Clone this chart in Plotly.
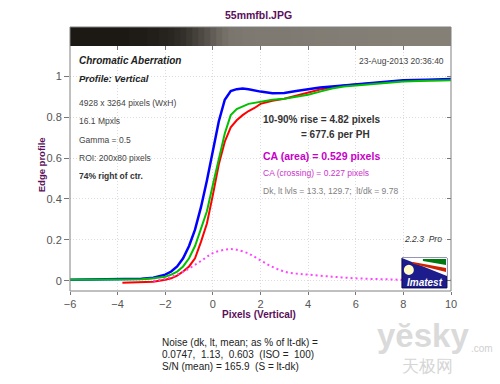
import plotly.graph_objects as go

# ---------------- data ----------------
blue_x = [-6, -4, -3, -2.5, -2, -1.75, -1.5, -1.25, -1, -0.75, -0.5, -0.25, 0, 0.25, 0.5, 0.75,
          1.0, 1.25, 1.5, 2, 2.5, 3, 3.5, 4, 4.5, 5, 5.5, 6, 7, 8, 9, 10]
blue_y = [0.005, 0.006, 0.01, 0.015, 0.03, 0.045, 0.07, 0.11, 0.17, 0.25, 0.36, 0.49, 0.64, 0.78, 0.885, 0.928,
          0.937, 0.94, 0.937, 0.925, 0.917, 0.918, 0.928, 0.937, 0.945, 0.95, 0.955, 0.96, 0.97, 0.98, 0.983, 0.987]

green_x = [-6, -4, -3, -2.5, -2, -1.75, -1.5, -1.25, -1, -0.75, -0.5, -0.25, 0, 0.25, 0.5, 0.75,
           1, 1.5, 2, 2.5, 3, 3.5, 4, 4.5, 5, 5.5, 6, 7, 8, 9, 10]
green_y = [0.005, 0.005, 0.008, 0.012, 0.02, 0.03, 0.045, 0.07, 0.11, 0.17, 0.25, 0.34, 0.47, 0.6, 0.72, 0.81,
           0.84, 0.865, 0.875, 0.885, 0.89, 0.9, 0.91, 0.925, 0.94, 0.95, 0.955, 0.965, 0.975, 0.978, 0.98]

red_x = [-3.8, -3, -2.5, -2, -1.75, -1.5, -1.25, -1, -0.75, -0.5, -0.25, 0, 0.25, 0.5, 0.75, 1,
         1.25, 1.5, 1.75, 2, 2.5, 3, 3.5, 4, 4.5, 5, 5.5, 6, 7, 8, 9, 10]
red_y = [-0.01, -0.008, -0.005, 0.005, 0.012, 0.025, 0.045, 0.07, 0.11, 0.19, 0.28, 0.42, 0.57, 0.68, 0.75, 0.785,
         0.81, 0.83, 0.845, 0.865, 0.88, 0.89, 0.905, 0.92, 0.935, 0.945, 0.955, 0.96, 0.97, 0.978, 0.98, 0.982]

diff_x = [-2.5, -2, -1.5, -1, -0.5, 0, 0.5, 0.75, 1, 1.5, 2, 2.5, 3, 3.5, 4, 5, 6, 7, 8, 9, 10]
diff_y = [0.0, 0.01, 0.03, 0.06, 0.097, 0.135, 0.152, 0.155, 0.152, 0.133, 0.1, 0.068, 0.045, 0.035, 0.03,
          0.02, 0.012, 0.008, 0.005, 0.004, 0.003]

x_ticks = [-6, -4, -2, 0, 2, 4, 6, 8, 10]
y_ticks = [0, 0.2, 0.4, 0.6, 0.8, 1]
y_ticktext = ["0", "0.2", "0.4", "0.6", "0.8", "1"]

# ---------------- styling ----------------
FONT = "Liberation Sans, Arial, sans-serif"
PURPLE = "#5a105a"
DARK = (22, 18, 15)
LIGHT = (133, 129, 119)
X_RANGE = [-6, 10]
Y_RANGE = [-0.05, 1.148]
MAIN_TOP = 0.928
GRID = "#dcdcdc"


def shade(s):
    f = s ** 0.5
    c = [round(d + (l - d) * f) for d, l in zip(DARK, LIGHT)]
    return "rgb(%d,%d,%d)" % tuple(c)


stops = [0, 0.01, 0.02, 0.05, 0.1, 0.2, 0.3, 0.4, 0.5, 0.6, 0.7, 0.8, 0.9, 1.0]
bar_scale = [[s, shade(s)] for s in stops]

fig = go.Figure()

# gradient bar (edge image) above the plot
fig.add_trace(go.Heatmap(x=green_x, y=[0], z=[green_y], zmin=0, zmax=1, colorscale=bar_scale,
                         showscale=False, hoverinfo="skip", xaxis="x3", yaxis="y3"))

fig.add_trace(go.Scatter(x=red_x, y=red_y, mode="lines", line=dict(color="#ff0000", width=2),
                         showlegend=False, hoverinfo="skip"))
fig.add_trace(go.Scatter(x=blue_x, y=blue_y, mode="lines", line=dict(color="#0000ff", width=2.5),
                         showlegend=False, hoverinfo="skip"))
fig.add_trace(go.Scatter(x=green_x, y=green_y, mode="lines", line=dict(color="#00c000", width=2),
                         showlegend=False, hoverinfo="skip"))
fig.add_trace(go.Scatter(x=diff_x, y=diff_y, mode="lines", line=dict(color="#ff44ff", width=2, dash="2px,3px"),
                         line_shape="spline", showlegend=False, hoverinfo="skip"))
# dummy trace for mirrored tick axes
fig.add_trace(go.Scatter(x=[None], y=[None], xaxis="x2", yaxis="y2", showlegend=False, hoverinfo="skip"))

tickfont = dict(family=FONT, size=11, color="#555555")
fig.update_layout(
    width=500, height=384,
    margin=dict(l=70, r=49, t=27, b=93),
    paper_bgcolor="white", plot_bgcolor="white",
    font=dict(family=FONT),
    xaxis=dict(domain=[0, 1], range=X_RANGE, tickvals=x_ticks, ticks="outside", ticklen=3,
               tickcolor="#777777", tickfont=tickfont, showgrid=True, gridcolor=GRID,
               griddash="1px,2px", zeroline=False, showline=False, anchor="y"),
    yaxis=dict(domain=[0, MAIN_TOP], range=Y_RANGE, tickvals=y_ticks, ticktext=y_ticktext,
               ticks="outside", ticklen=5, tickcolor="#777777", tickfont=tickfont, showgrid=True,
               gridcolor=GRID, griddash="1px,2px", zeroline=False, showline=False, anchor="x"),
    xaxis2=dict(overlaying="x", side="top", anchor="y", range=X_RANGE, tickvals=x_ticks[1:-1],
                ticks="inside", ticklen=4, tickcolor="#777777", showticklabels=False,
                showgrid=False, zeroline=False, showline=False),
    yaxis2=dict(overlaying="y", side="right", anchor="x", range=Y_RANGE, tickvals=y_ticks,
                ticks="inside", ticklen=4, tickcolor="#777777", showticklabels=False,
                showgrid=False, zeroline=False, showline=False),
    xaxis3=dict(domain=[0, 1], anchor="y3", range=X_RANGE, visible=False),
    yaxis3=dict(domain=[MAIN_TOP, 1], anchor="x3", range=[-0.5, 0.5], visible=False),
)

# frame around bar + plot
fig.add_shape(type="rect", xref="paper", yref="paper", x0=0, x1=1, y0=0, y1=1,
              line=dict(color="#808080", width=1), fillcolor="rgba(0,0,0,0)")

# Imatest logo
fig.add_shape(type="rect", x0=7.94, x1=9.83, y0=-0.035, y1=0.111, line=dict(color="#0a0a50", width=1),
              fillcolor="#1c1c8c")
fig.add_shape(type="path", path="M 7.94 0.111 L 9.83 0.111 L 9.83 0.023 Z", line=dict(width=0),
              fillcolor="white")
fig.add_shape(type="path", path="M 8.82 0.107 L 9.79 0.107 L 9.79 0.077 L 8.82 0.097 Z", line=dict(width=0),
              fillcolor="#007a10")
fig.add_shape(type="path", path="M 8.40 0.092 L 9.79 0.062 L 9.79 0.043 L 8.40 0.083 Z", line=dict(width=0),
              fillcolor="#cc2200")
fig.add_shape(type="circle", x0=8.02, x1=8.44, y0=0.028, y1=0.078, line=dict(width=0),
              fillcolor="#fffbc8")


def txt(x, y, text, size, color="#333333", anchor="left", angle=0):
    # positions given in data units of the main axes, converted to paper units
    px = (x - X_RANGE[0]) / (X_RANGE[1] - X_RANGE[0])
    py = (y - Y_RANGE[0]) / (Y_RANGE[1] - Y_RANGE[0]) * MAIN_TOP
    fig.add_annotation(x=px, y=py, xref="paper", yref="paper", text=text, showarrow=False, xanchor=anchor,
                       yanchor="middle", textangle=angle,
                       font=dict(family=FONT, size=size, color=color))


txt(8.89, -0.008, "<b><i>Imatest</i></b>", 10, "white", "center")

txt(1.92, 1.30, "<b>55mmfbl.JPG</b>", 10.5, PURPLE, "center")
txt(-7.2, 0.567, "<b>Edge profile</b>", 9.5, PURPLE, "center", -90)
txt(1.92, -0.165, "<b>Pixels (Vertical)</b>", 10, PURPLE, "center")

txt(-5.72, 1.075, "<b><i>Chromatic Aberration</i></b>", 10, "#222222")
txt(-5.72, 0.987, "<b><i>Profile: Vertical</i></b>", 9.5, "#222222")
txt(-5.72, 0.87, "4928 x 3264 pixels (WxH)", 8.5, "#444444")
txt(-5.72, 0.78, "16.1 Mpxls", 8.5, "#444444")
txt(-5.72, 0.69, "Gamma = 0.5", 8.5, "#444444")
txt(-5.72, 0.60, "ROI: 200x80 pixels", 8.5, "#444444")
txt(-5.72, 0.513, "<b>74% right of ctr.</b>", 8.5, "#333333")
txt(9.8, 1.075, "23-Aug-2013 20:36:40", 8.5, "#444444", "right")

txt(2.0, 0.79, "<b>10-90% rise = 4.82 pixels</b>", 10, "#333333")
txt(3.62, 0.713, "<b>= 677.6 per PH</b>", 10, "#333333")
txt(2.0, 0.61, "<b>CA (area) = 0.529 pixels</b>", 10.5, "#c800c8")
txt(2.0, 0.528, "CA (crossing) = 0.227 pixels", 8.5, "#cc33cc")
txt(2.0, 0.44, "Dk, lt lvls = 13.3, 129.7;  lt/dk = 9.78", 8.5, "#808080")
txt(9.72, 0.205, "<i>2.2.3  Pro</i>", 8.5, "#333333", "right")

txt(-2.21, -0.303, "Noise (dk, lt, mean; as % of lt-dk) =", 10, "#222222")
txt(-2.21, -0.360, "0.0747,  1.13,  0.603  (ISO =  100)", 10, "#222222")
txt(-2.21, -0.417, "S/N (mean) = 165.9  (S = lt-dk)", 10, "#222222")

# watermark
txt(8.82, -0.27, "<b>yĕsky</b>", 33, "#dadada", "center")
txt(10.75, -0.333, ".com", 10, "#d0d0d0")
txt(9.03, -0.417, "天极网", 17, "#d6d6d6", "center")

fig.write_html("out.html", post_script="document.body.style.margin='0';",
               config={"displayModeBar": False})
